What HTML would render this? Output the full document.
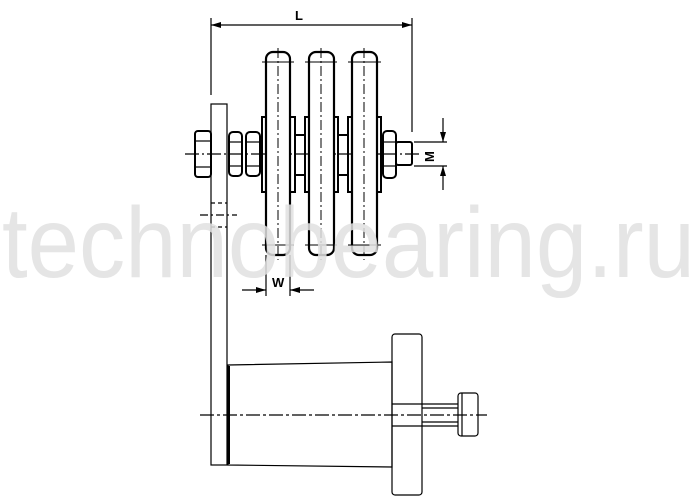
<!DOCTYPE html>
<html><head><meta charset="utf-8"><style>html,body{margin:0;padding:0;background:#fff}svg{display:block}</style></head>
<body>
<svg width="700" height="500" viewBox="0 0 700 500" xmlns="http://www.w3.org/2000/svg">
<defs>
<marker id="a" markerWidth="10" markerHeight="6" refX="10" refY="3" orient="auto-start-reverse" markerUnits="userSpaceOnUse"><path d="M0,0 L10,3 L0,6 z" fill="#000"/></marker>
</defs>
<g fill="none" stroke="#000" stroke-width="1.2">
<line x1="211" y1="18" x2="211" y2="95"/>
<line x1="412" y1="18" x2="412" y2="132"/>
<line x1="211" y1="25" x2="412" y2="25" marker-start="url(#a)" marker-end="url(#a)"/>
<rect x="211" y="104" width="16" height="361"/>
<line x1="211" y1="203" x2="227" y2="203" stroke-dasharray="4,3"/>
<line x1="211" y1="227" x2="227" y2="227" stroke-dasharray="4,3"/>
<line x1="200" y1="215" x2="237" y2="215" stroke-dasharray="8,3,2,3"/>
<line x1="185" y1="154" x2="420" y2="154" stroke-dasharray="14,3,2,3"/>
<rect x="195" y="131" width="16" height="46" rx="3" stroke-width="2"/>
<line x1="195" y1="141" x2="211" y2="141"/><line x1="195" y1="167" x2="211" y2="167"/>
<rect x="229" y="132" width="13" height="44" rx="4" stroke-width="2"/>
<line x1="229" y1="142" x2="242" y2="142"/><line x1="229" y1="166" x2="242" y2="166"/>
<rect x="246" y="132" width="14" height="44" rx="4" stroke-width="2"/>
<line x1="246" y1="142" x2="260" y2="142"/><line x1="246" y1="166" x2="260" y2="166"/>
<rect x="383" y="131" width="13" height="47" rx="4" stroke-width="2"/>
<line x1="383" y1="142" x2="396" y2="142"/><line x1="383" y1="166" x2="396" y2="166"/>
<rect x="396" y="142" width="16" height="23" rx="2" stroke-width="2"/>
<rect x="262" y="117" width="33" height="75" stroke-width="2"/>
<rect x="305" y="117" width="33" height="75" stroke-width="2"/>
<rect x="348" y="117" width="33" height="75" stroke-width="2"/>
<rect x="295" y="135" width="10" height="40" stroke-width="2"/>
<rect x="338" y="135" width="10" height="40" stroke-width="2"/>
<g fill="#fff" stroke-width="2.2">
<rect x="266" y="52" width="24" height="203" rx="7"/>
<rect x="309" y="52" width="25" height="203" rx="7"/>
<rect x="352" y="52" width="25" height="203" rx="7"/>
</g>
<g stroke-width="1" stroke-dasharray="10,3,2,3">
<line x1="278" y1="48" x2="278" y2="260"/><line x1="321" y1="48" x2="321" y2="260"/><line x1="364" y1="48" x2="364" y2="260"/>
</g>
<g stroke-width="1">
<line x1="262" y1="62" x2="294" y2="62"/><line x1="262" y1="245" x2="294" y2="245"/>
<line x1="305" y1="62" x2="337" y2="62"/><line x1="305" y1="245" x2="337" y2="245"/>
<line x1="348" y1="62" x2="381" y2="62"/><line x1="348" y1="245" x2="381" y2="245"/>
</g>
<line x1="414" y1="142" x2="447" y2="142"/><line x1="414" y1="166" x2="447" y2="166"/>
<line x1="443" y1="118" x2="443" y2="142" marker-end="url(#a)"/>
<line x1="443" y1="190" x2="443" y2="166" marker-end="url(#a)"/>
<line x1="266" y1="255" x2="266" y2="296"/><line x1="290" y1="255" x2="290" y2="296"/>
<line x1="242" y1="290" x2="266" y2="290" marker-end="url(#a)"/>
<line x1="314" y1="290" x2="290" y2="290" marker-end="url(#a)"/>
<path d="M228,365 L392,362 L392,467 L228,465 Z"/>
<line x1="229" y1="366" x2="229" y2="464" stroke-width="2"/>
<rect x="392" y="334" width="30" height="161" rx="3"/>
<line x1="392" y1="404" x2="458" y2="404"/><line x1="392" y1="426" x2="458" y2="426"/>
<line x1="422" y1="408" x2="458" y2="408"/><line x1="422" y1="422" x2="458" y2="422"/>
<rect x="458" y="393" width="20" height="43" rx="3"/>
<line x1="462" y1="393" x2="462" y2="436"/>
<line x1="200" y1="415" x2="487" y2="415" stroke-dasharray="14,3,3,3"/>
</g>
<g font-family="Liberation Sans, sans-serif" font-weight="bold" font-size="13" fill="#000">
<text x="295" y="20">L</text>
<text x="272" y="287">W</text>
<text x="0" y="0" transform="translate(434,162) rotate(-90)">M</text>
</g>
<text x="2" y="277" font-family="Liberation Sans, sans-serif" font-size="100" fill="#e0e0e0" fill-opacity="0.85" textLength="693" lengthAdjust="spacingAndGlyphs">technobearing.ru</text>
</svg>
</body></html>
